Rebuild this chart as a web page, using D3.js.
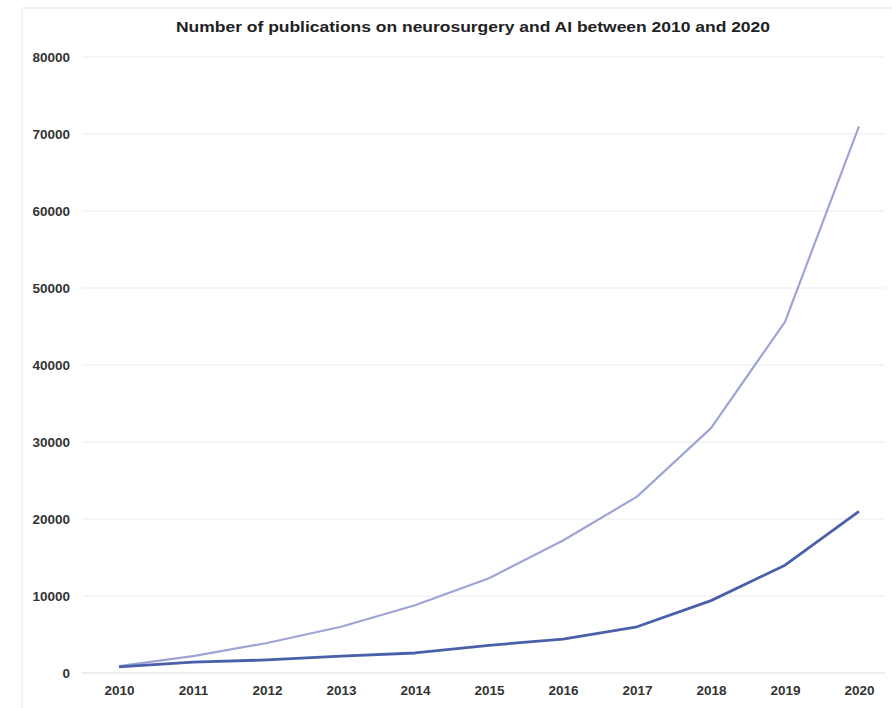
<!DOCTYPE html>
<html>
<head>
<meta charset="utf-8">
<script src="https://cdn.jsdelivr.net/npm/d3@7"></script>
<style>
  body { margin: 0; background: #fff; }
  svg { display: block; font-family: "Liberation Sans", Arial, sans-serif; }
</style>
</head>
<body>
<script>
// data
const years = [2010, 2011, 2012, 2013, 2014, 2015, 2016, 2017, 2018, 2019, 2020];
const upperSeries = [900, 2200, 3900, 6000, 8800, 12300, 17200, 22900, 31800, 45600, 71000];
const lowerSeries = [800, 1400, 1700, 2200, 2600, 3600, 4400, 6000, 9400, 14000, 21000];
const yTicks = [0, 10000, 20000, 30000, 40000, 50000, 60000, 70000, 80000];

const W = 892, H = 708;
const svg = d3.select("body").append("svg")
    .attr("width", W)
    .attr("height", H);

// faint frame lines
svg.append("line").attr("x1", 22).attr("x2", W).attr("y1", 8).attr("y2", 8)
    .attr("stroke", "#f0f0f0").attr("stroke-width", 2);
svg.append("line").attr("x1", 22).attr("x2", 22).attr("y1", 8).attr("y2", H)
    .attr("stroke", "#f3f3f3").attr("stroke-width", 2);

const x = d3.scalePoint()
    .domain(years)
    .range([119, 859]);

const y = d3.scaleLinear()
    .domain([0, 80000])
    .range([673, 57]);

// grid
svg.append("g")
    .selectAll("line")
    .data(yTicks)
    .join("line")
    .attr("x1", 82)
    .attr("x2", 885)
    .attr("y1", d => y(d))
    .attr("y2", d => y(d))
    .attr("stroke", d => d === 0 ? "#dcdcdc" : "#ebebeb")
    .attr("stroke-width", 1.2);

// y axis labels
const yAxis = d3.axisLeft(y).tickValues(yTicks).tickSize(0).tickPadding(0).tickFormat(d3.format("d"));
svg.append("g")
    .attr("transform", "translate(70,0)")
    .call(yAxis)
    .call(g => g.select(".domain").remove())
    .selectAll("text")
    .attr("fill", "#333")
    .style("font-size", "13.5px")
    .style("font-weight", "bold")
    .attr("dy", "0.35em");

// x axis labels
const xAxis = d3.axisBottom(x).tickSize(0).tickPadding(0);
svg.append("g")
    .attr("transform", "translate(0,685)")
    .call(xAxis)
    .call(g => g.select(".domain").remove())
    .selectAll("text")
    .attr("fill", "#333")
    .style("font-size", "13.5px")
    .style("font-weight", "bold");

const line = d3.line()
    .x((d, i) => x(years[i]))
    .y(d => y(d));

svg.append("path")
    .datum(upperSeries)
    .attr("d", line)
    .attr("fill", "none")
    .attr("stroke", "#9ea5d6")
    .attr("stroke-width", 2.2)
    .attr("stroke-linejoin", "round");

svg.append("path")
    .datum(lowerSeries)
    .attr("d", line)
    .attr("fill", "none")
    .attr("stroke", "#4a60a8")
    .attr("stroke-width", 2.8)
    .attr("stroke-linejoin", "round");

// title
svg.append("text")
    .attr("x", 473)
    .attr("y", 32)
    .attr("text-anchor", "middle")
    .attr("textLength", 594)
    .attr("lengthAdjust", "spacingAndGlyphs")
    .attr("fill", "#222")
    .style("font-size", "14px")
    .style("font-weight", "bold")
    .text("Number of publications on neurosurgery and AI between 2010 and 2020");
</script>
</body>
</html>
